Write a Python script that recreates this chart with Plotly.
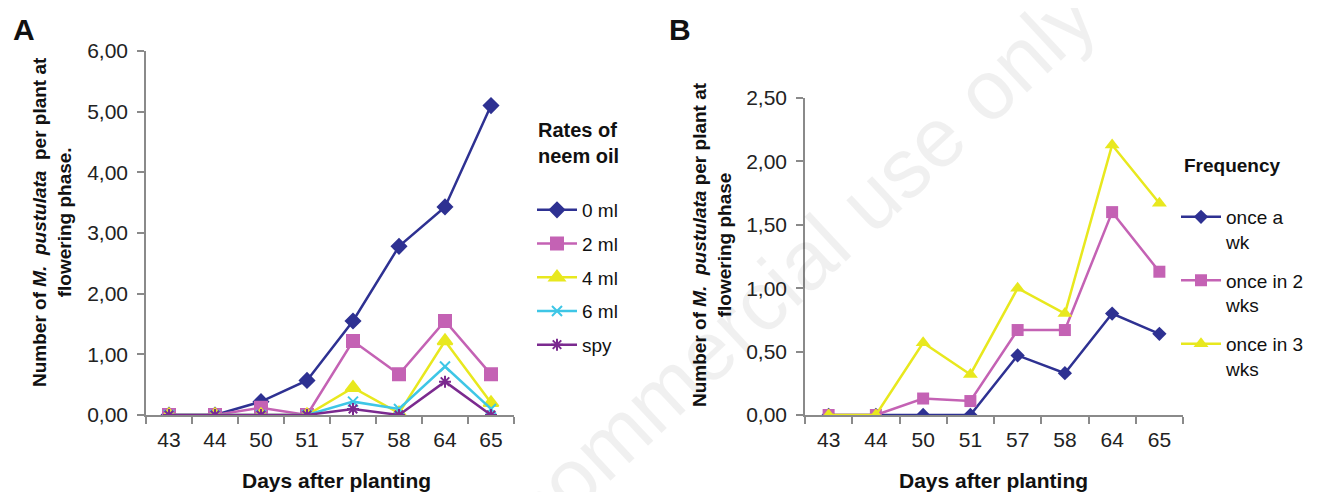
import plotly.graph_objects as go

# page body has an 8px margin; size the figure to fill the rest of the 1321x492 view
OFF = 8
W, H = 1321 - OFF, 492 - OFF

days = ["43", "44", "50", "51", "57", "58", "64", "65"]

# Panel A: rates of neem oil
a_names = ["0 ml", "2 ml", "4 ml", "6 ml", "spy"]
a_0ml = [0, 0, 0.22, 0.57, 1.55, 2.78, 3.43, 5.10]
a_2ml = [0, 0, 0.12, 0, 1.22, 0.67, 1.55, 0.67]
a_4ml = [0, 0, 0, 0, 0.45, 0.03, 1.22, 0.20]
a_6ml = [0, 0, 0, 0, 0.22, 0.10, 0.80, 0.10]
a_spy = [0, 0, 0, 0, 0.10, 0, 0.55, 0]

# Panel B: frequency
b_names = ["once a<br>wk", "once in 2<br>wks", "once in 3<br>wks"]
b_once1 = [0, 0, 0, 0, 0.47, 0.33, 0.80, 0.64]
b_once2 = [0, 0, 0.13, 0.11, 0.67, 0.67, 1.60, 1.13]
b_once3 = [0, 0, 0.57, 0.32, 1.00, 0.80, 2.13, 1.67]

a_ticks = [0, 1, 2, 3, 4, 5, 6]
b_ticks = [0, 0.5, 1.0, 1.5, 2.0, 2.5]

NAVY = "#2e3192"
PINK = "#c462b4"
YELLOW = "#e8e81e"
CYAN = "#3ec6e6"
PURPLE = "#7b2a8f"
FONT = "Liberation Sans, Arial, sans-serif"

def px(x):
    return (x - OFF) / W

def py(y):
    return 1 - (y - OFF) / H

fig = go.Figure()

a_series = [
    (a_names[0], a_0ml, NAVY, "diamond", 11),
    (a_names[1], a_2ml, PINK, "square", 12),
    (a_names[2], a_4ml, YELLOW, "triangle-up", 13),
    (a_names[3], a_6ml, CYAN, "x-thin-open", 10),
    (a_names[4], a_spy, PURPLE, "asterisk-open", 10),
]
for i, (name, vals, col, sym, sz) in enumerate(a_series):
    fig.add_trace(go.Scatter(
        x=days, y=vals, name=name, mode="lines+markers",
        line=dict(color=col, width=2.5),
        marker=dict(symbol=sym, size=sz, color=col, line=dict(color=col, width=2)),
        xaxis="x", yaxis="y", legend="legend", legendgroup="a%d" % i,
    ))

b_series = [
    (b_names[0], b_once1, NAVY, "diamond", 11),
    (b_names[1], b_once2, PINK, "square", 12),
    (b_names[2], b_once3, YELLOW, "triangle-up", 13),
]
for i, (name, vals, col, sym, sz) in enumerate(b_series):
    fig.add_trace(go.Scatter(
        x=days, y=vals, name=name, mode="lines+markers",
        line=dict(color=col, width=2.5),
        marker=dict(symbol=sym, size=sz, color=col),
        xaxis="x2", yaxis="y2", legend="legend2", legendgroup="b%d" % i,
    ))

axis_common = dict(
    showline=True, linecolor="#8a8a8a", linewidth=1.5,
    ticks="outside", tickcolor="#8a8a8a", ticklen=7, tickwidth=1.5,
    showgrid=False, zeroline=False, ticklabelstandoff=5,
    tickfont=dict(family=FONT, size=21, color="#222222"),
)

fig.update_layout(
    width=W, height=H,
    margin=dict(l=0, r=0, t=0, b=0, autoexpand=False),
    paper_bgcolor="white", plot_bgcolor="white",
    separators=",.",
    font=dict(family=FONT, color="#111111"),
    xaxis=dict(domain=[px(146), px(514)], type="category", range=[-0.5, 7.5],
               tickson="boundaries", anchor="y", automargin=False, **axis_common),
    yaxis=dict(domain=[py(415), py(51)], range=[0, 6], tickvals=a_ticks,
               tickformat=".2f", anchor="x", automargin=False, **axis_common),
    xaxis2=dict(domain=[px(805), px(1183)], type="category", range=[-0.5, 7.5],
                tickson="boundaries", anchor="y2", automargin=False, **axis_common),
    yaxis2=dict(domain=[py(415), py(98)], range=[0, 2.5], tickvals=b_ticks,
                tickformat=".2f", anchor="x2", automargin=False, **axis_common),
    legend=dict(x=px(532), y=py(191), xanchor="left", yanchor="top",
                font=dict(family=FONT, size=19, color="#111111"),
                tracegroupgap=6, bgcolor="rgba(0,0,0,0)", itemwidth=40),
    legend2=dict(x=px(1176), y=py(198), xanchor="left", yanchor="top",
                 font=dict(family=FONT, size=19, color="#111111"),
                 tracegroupgap=11, valign="top", bgcolor="rgba(0,0,0,0)", itemwidth=40),
    showlegend=True,
)

ytitle = "Number of <i>M.  pustulata</i>  per plant at<br>flowering phase."
ytitle_b = "Number of <i>M.  pustulata</i> per plant at<br>flowering phase"

annotations = [
    # watermark
    dict(text="Non-commercial use only", x=px(735), y=py(325),
         textangle=-43,
         font=dict(family=FONT, size=84, color="rgba(0,0,0,0.06)")),
    dict(text="<b>A</b>", x=px(11), y=py(29), xanchor="left",
         font=dict(family=FONT, size=30, color="#111111")),
    dict(text="<b>B</b>", x=px(667), y=py(29), xanchor="left",
         font=dict(family=FONT, size=30, color="#111111")),
    dict(text="<b>" + ytitle + "</b>", x=px(52), y=py(222), textangle=-90,
         font=dict(family=FONT, size=19, color="#111111")),
    dict(text="<b>" + ytitle_b + "</b>", x=px(712), y=py(245), textangle=-90,
         font=dict(family=FONT, size=19, color="#111111")),
    dict(text="<b>Days after planting</b>", x=px(336), y=py(480),
         font=dict(family=FONT, size=21, color="#111111")),
    dict(text="<b>Days after planting</b>", x=px(993), y=py(480),
         font=dict(family=FONT, size=21, color="#111111")),
    dict(text="<b>Rates of<br>neem oil</b>", x=px(536), y=py(143), xanchor="left",
         align="left", font=dict(family=FONT, size=20, color="#111111")),
    dict(text="<b>Frequency</b>", x=px(1182), y=py(165), xanchor="left",
         font=dict(family=FONT, size=19, color="#111111")),
]
for a in annotations:
    a.setdefault("xref", "paper")
    a.setdefault("yref", "paper")
    a.setdefault("showarrow", False)
    a.setdefault("xanchor", "center")
    a.setdefault("yanchor", "middle")
fig.update_layout(annotations=annotations)

fig.write_html("out.html")
